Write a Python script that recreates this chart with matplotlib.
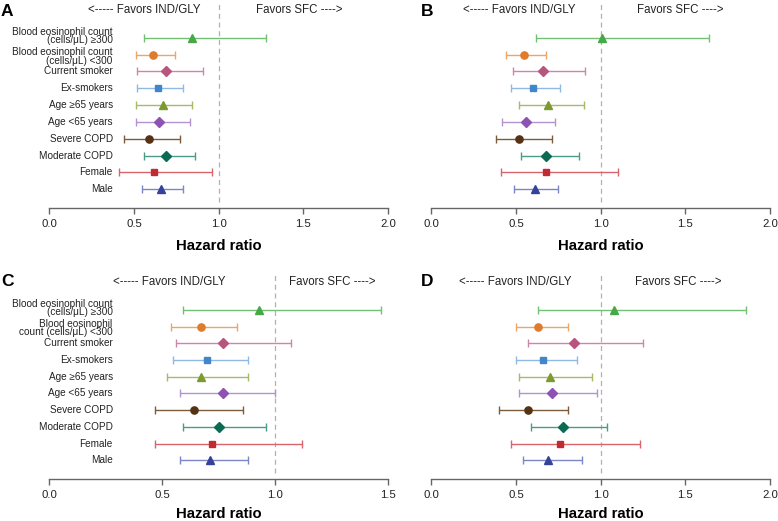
import numpy as np
import matplotlib
matplotlib.use('Agg')
import matplotlib.pyplot as plt
import matplotlib.transforms as mtransforms

plt.rcParams['font.family'] = ['Liberation Sans', 'DejaVu Sans']

# subgroups, listed top to bottom
labels = ['Blood eosinophil count\n(cells/\u03bcL) \u2265300',
          'Blood eosinophil count\n(cells/\u03bcL) <300',
          'Current smoker', 'Ex-smokers', 'Age \u226565 years', 'Age <65 years',
          'Severe COPD', 'Moderate COPD', 'Female', 'Male']
labels_c = ['Blood eosinophil count\n(cells/\u03bcL) \u2265300',
            'Blood eosinophil\ncount (cells/\u03bcL) <300',
            'Current smoker', 'Ex-smokers', 'Age \u226565 years', 'Age <65 years',
            'Severe COPD', 'Moderate COPD', 'Female', 'Male']

markers = ['^', 'o', 'D', 's', '^', 'D', 'o', 'D', 's', '^']
marker_colors = ['#46a846', '#e07b2c', '#b8557f', '#3f86cc', '#7b9b2e',
                 '#8d52b3', '#553214', '#0b6b52', '#c22a33', '#35429c']
line_colors = ['#72c072', '#e9a56a', '#cd86a7', '#8fb8e2', '#a5bb68',
               '#b392d2', '#7d5c3e', '#4c9a88', '#d9646b', '#7b86c6']

# hazard ratio and 95% CI per panel
hr_a = [0.84, 0.61, 0.69, 0.64, 0.67, 0.65, 0.59, 0.69, 0.62, 0.66]
lo_a = [0.56, 0.51, 0.52, 0.52, 0.51, 0.51, 0.44, 0.56, 0.41, 0.55]
hi_a = [1.28, 0.74, 0.91, 0.79, 0.84, 0.83, 0.77, 0.86, 0.96, 0.79]

hr_b = [1.01, 0.55, 0.66, 0.60, 0.69, 0.56, 0.52, 0.68, 0.68, 0.61]
lo_b = [0.62, 0.44, 0.48, 0.47, 0.52, 0.42, 0.38, 0.53, 0.41, 0.49]
hi_b = [1.64, 0.68, 0.91, 0.76, 0.90, 0.73, 0.71, 0.87, 1.10, 0.75]

hr_c = [0.93, 0.67, 0.77, 0.70, 0.67, 0.77, 0.64, 0.75, 0.72, 0.71]
lo_c = [0.59, 0.54, 0.56, 0.55, 0.52, 0.58, 0.47, 0.59, 0.47, 0.58]
hi_c = [1.47, 0.83, 1.07, 0.88, 0.88, 1.00, 0.86, 0.96, 1.12, 0.88]

hr_d = [1.08, 0.63, 0.84, 0.66, 0.70, 0.71, 0.57, 0.78, 0.76, 0.69]
lo_d = [0.63, 0.50, 0.57, 0.50, 0.52, 0.52, 0.40, 0.59, 0.47, 0.54]
hi_d = [1.86, 0.81, 1.25, 0.86, 0.95, 0.98, 0.81, 1.04, 1.23, 0.89]

W, H = 778, 521
fig = plt.figure(figsize=(W / 100, H / 100), dpi=100)


def panel(rect, hr, lo, hi, xmax, ylabels, text_x, ytop, labelpad):
    ax = fig.add_axes(rect)
    n = len(hr)
    y = np.arange(n)[::-1]
    hr = np.array(hr)
    lo = np.array(lo)
    hi = np.array(hi)
    for i in range(n):
        ax.errorbar(hr[i], y[i], xerr=[[hr[i] - lo[i]], [hi[i] - hr[i]]],
                    fmt='none', ecolor=line_colors[i], elinewidth=1.0,
                    capsize=2.6, capthick=1.0)
        ax.plot(hr[i], y[i], marker=markers[i], color=marker_colors[i],
                ms=4.6 if markers[i] in ('s', 'D') else 5.2, zorder=3)
    ax.set_xlim(0, xmax)
    ax.set_ylim(-1.13, ytop)
    ax.axvline(1.0, ymin=0.03, color='#b0b0b0', lw=0.9, ls=(0, (4, 3)), zorder=0)
    ticks = np.arange(0, xmax + 0.01, 0.5)
    ax.set_xticks(ticks)
    ax.set_xticklabels(['%.1f' % t for t in ticks])
    for s in ['top', 'right', 'left']:
        ax.spines[s].set_visible(False)
    ax.spines['bottom'].set_color('#666666')
    ax.spines['bottom'].set_linewidth(1.0)
    ax.set_yticks([])
    ax.tick_params(axis='x', colors='#666666', length=4, width=1.0, pad=4,
                   labelsize=8.2, labelcolor='#222222')
    ax.set_xlabel('Hazard ratio', fontsize=10.7, fontweight='bold', labelpad=labelpad)
    ax.patch.set_visible(False)

    ax.text(text_x[0], 10.65, '<----- Favors IND/GLY', ha='center', va='center',
            fontsize=8.3, color='#222222')
    ax.text(text_x[1], 10.65, 'Favors SFC ---->', ha='center', va='center',
            fontsize=8.3, color='#222222')

    if ylabels is not None:
        tr = mtransforms.blended_transform_factory(fig.transFigure, ax.transData)
        # the two-line labels sit a little apart from each other
        shifts = [0.1, -0.1] + [0] * (n - 2)
        for i, lab in enumerate(ylabels):
            ax.text(112.7 / W, y[i] + shifts[i], lab, transform=tr,
                    ha='right', va='center', fontsize=7.2, linespacing=0.82,
                    color='#222222')
    return ax


def frac(x0, x1, ytop_px, ybot_px):
    return [x0 / W, 1 - ybot_px / H, (x1 - x0) / W, (ybot_px - ytop_px) / H]


ax_a = panel(frac(49.3, 388, 2, 208.3), hr_a, lo_a, hi_a, 2.0, labels,
             (0.562, 1.477), 11.12, 7)
ax_b = panel(frac(431.3, 770, 2, 208.3), hr_b, lo_b, hi_b, 2.0, None,
             (0.517, 1.470), 11.12, 7)
ax_c = panel(frac(49.3, 388, 273, 479.3), hr_c, lo_c, hi_c, 1.5, labels_c,
             (0.533, 1.255), 11.2, 4.5)
ax_d = panel(frac(431.3, 770, 273, 479.3), hr_d, lo_d, hi_d, 2.0, None,
             (0.497, 1.461), 11.2, 4.5)

# panel letters
fig.text(1 / W, 1 - 11 / H, 'A', fontsize=12.5, fontweight='bold', va='center')
fig.text(421 / W, 1 - 11 / H, 'B', fontsize=12.5, fontweight='bold', va='center')
fig.text(1 / W, 1 - 281 / H, 'C', fontsize=12.5, fontweight='bold', va='center')
fig.text(421 / W, 1 - 281 / H, 'D', fontsize=12.5, fontweight='bold', va='center')

fig.savefig('out.png', dpi=100)
